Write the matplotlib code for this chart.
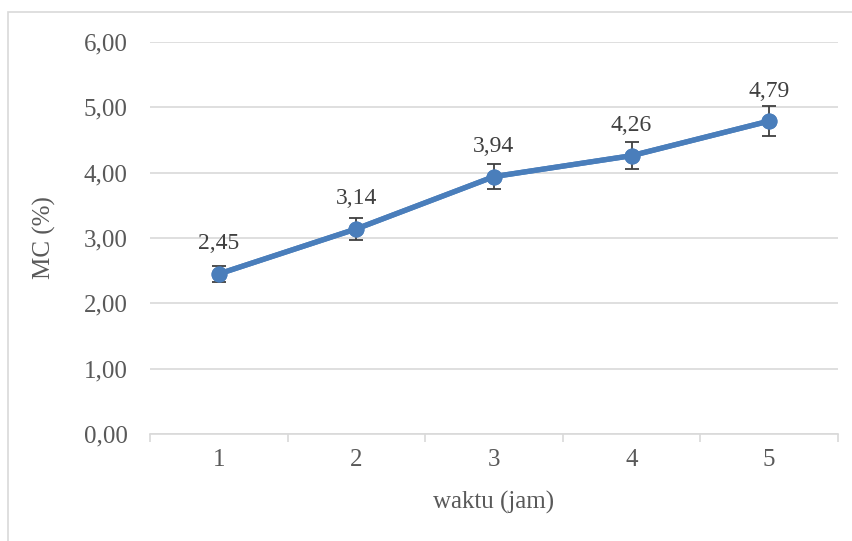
import matplotlib
matplotlib.use("Agg")
import matplotlib.pyplot as plt
from matplotlib.patches import Rectangle
from matplotlib.ticker import FixedLocator, NullFormatter

categories = ["1", "2", "3", "4", "5"]
mc_values = [2.45, 3.14, 3.94, 4.26, 4.79]
mc_errors = [0.12, 0.17, 0.19, 0.21, 0.23]
y_ticks = [0, 1, 2, 3, 4, 5, 6]
y_tick_labels = ["0,00", "1,00", "2,00", "3,00", "4,00", "5,00", "6,00"]

W, H = 853, 541
fig = plt.figure(figsize=(W / 100, H / 100), dpi=100)
plt.rcParams['font.family'] = ['Liberation Serif', 'DejaVu Serif']

text_color = '#595959'
grid_color = '#d9d9d9'
line_color = '#4a7ebb'
fs = 18

# outer border
fig.patches.append(Rectangle((8 / W, -0.1), 1.2, 1 - 12 / H + 0.1, transform=fig.transFigure,
                             fill=False, edgecolor='#d9d9d9', linewidth=1.2))

ax = fig.add_axes([150 / W, 1 - 434 / H, (838 - 150) / W, (434 - 42) / H])
x = list(range(1, len(categories) + 1))
ax.errorbar(x, mc_values, yerr=mc_errors, color=line_color, linewidth=3.8,
            marker='o', markersize=10.5, ecolor='#404040', elinewidth=1.3,
            capsize=5, capthick=1.3, zorder=3)
ax.plot(x, mc_values, color=line_color, linewidth=3.8, marker='o', markersize=10.5, zorder=4)

for xi, v in zip(x, mc_values):
    ax.annotate(f"{v:.2f}".replace('.', ','), (xi, v), xytext=(0, 14), textcoords='offset points',
                ha='center', va='bottom', fontsize=17, color='#404040')

ax.set_xlim(0.5, len(categories) + 0.5)
ax.set_ylim(0, 6)
ax.set_yticks(y_ticks)
ax.set_yticklabels(y_tick_labels, fontsize=fs, color=text_color)
ax.tick_params(axis='y', length=0, pad=16)
ax.xaxis.set_major_locator(FixedLocator(x))
ax.set_xticklabels(categories, fontsize=fs, color=text_color)
ax.tick_params(axis='x', which='major', length=0, pad=11)
ax.xaxis.set_minor_locator(FixedLocator([i + 0.5 for i in range(0, len(categories) + 1)]))
ax.xaxis.set_minor_formatter(NullFormatter())
ax.tick_params(axis='x', which='minor', length=6, color=grid_color, width=1.2)

ax.grid(axis='y', color=grid_color, linewidth=1.2)
ax.set_axisbelow(True)
for s in ['left', 'right', 'top']:
    ax.spines[s].set_visible(False)
ax.spines['bottom'].set_color(grid_color)
ax.spines['bottom'].set_linewidth(1.2)

ax.set_xlabel("waktu (jam)", fontsize=fs, color=text_color, labelpad=14)
ax.set_ylabel("MC (%)", fontsize=fs, color=text_color, labelpad=20)

fig.savefig("out.png", dpi=100)
